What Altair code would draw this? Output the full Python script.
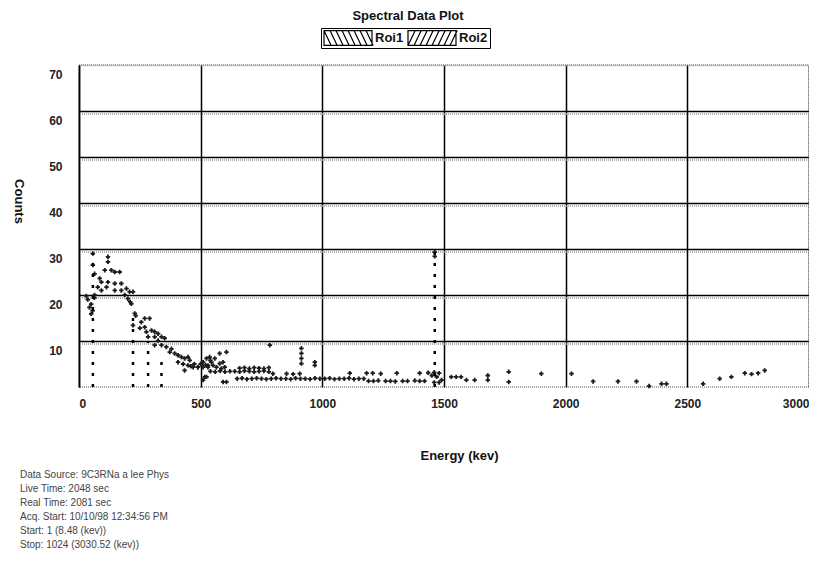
import altair as alt
import pandas as pd

# ---------------- data ----------------
low_e = [30, 36, 43, 50, 50, 56, 63, 64, 57, 57, 64, 77, 85, 92, 92, 106, 113, 119, 119, 119,
         133, 147, 147, 147, 167, 174, 174, 188, 195, 201, 208, 210, 215, 222]
low_c = [19.8, 19, 17.3, 18, 15.9, 16.6, 19.4, 20, 29, 26.5, 24.6, 21.7, 23.6, 22.8, 21, 25.4, 21.7, 28.3, 27.2, 22.8,
         25.4, 25, 22.5, 21, 25, 22.5, 21, 20, 21.4, 19.2, 20.7, 18.5, 18.1, 20.7]

fall_e = [229, 233, 222, 256, 270, 290, 250, 270, 277, 298, 311, 325, 284, 311, 339, 352, 325, 311, 339, 359,
          380, 393, 373, 407, 421, 434, 448, 455, 407, 428, 448, 469, 489, 510, 530, 434, 524, 510]
fall_c = [16, 15.5, 13.4, 14.1, 14.9, 14.9, 12.8, 13, 12, 12.3, 12, 11.6, 10.9, 10.9, 10.9, 10.6, 10.1, 9.1, 9.1, 8.7,
          8.3, 7.3, 7.6, 6.9, 6.5, 6.2, 6.5, 5.8, 5.4, 5, 4.7, 4.3, 4.3, 4.3, 4.7, 3.6, 2.2, 1.5]

block_e = [460, 474, 488, 510, 524, 537, 544, 551, 558, 530, 565, 578, 592, 599, 585, 578, 606, 592, 606, 517, 500, 520, 540]
block_c = [4.5, 5, 4.3, 5.4, 6.2, 6.5, 5.4, 4.7, 6.2, 4.3, 4.3, 5.1, 5.4, 4.3, 4, 7.3, 7.6, 1.1, 1.1, 2.2, 5.0, 4.8, 5.8]

mid_e = [540, 560, 580, 600, 620, 640, 660, 680, 700, 720, 740, 760, 780,
         660, 680, 700, 720, 740, 760, 780,
         797, 853, 880, 907]
mid_c = [3.4, 3.3, 3.5, 3.3, 3.4, 3.4, 3.3, 3.5, 3.4, 3.3, 3.4, 3.5, 3.3,
         4.1, 4.2, 4.0, 4.2, 4.1, 4.0, 4.2,
         2.9, 2.9, 2.8, 2.9]

tail_e = [650, 670, 690, 710, 730, 750, 770, 790, 810, 830, 850, 870, 890, 910, 930, 950, 970, 990,
          1010, 1030, 1050, 1070, 1090, 1110, 1130, 1150, 1170]
tail_c = [1.8, 1.9, 1.7, 1.8, 1.9, 1.8, 1.7, 1.8, 1.9, 1.8, 1.8, 1.7, 1.9, 1.8, 1.8, 1.7, 1.9, 1.8,
          1.8, 1.9, 1.7, 1.8, 1.8, 1.9, 1.7, 1.8, 1.8]

scatter_e = [784, 914, 914, 914, 914, 969, 969,
             1113, 1182, 1207, 1240, 1306, 1400, 1435, 1460, 1480,
             1190, 1210, 1230, 1260, 1280, 1300, 1330, 1350, 1380, 1400, 1420,
             1450, 1470, 1490, 1460, 1480, 1530, 1550, 1570, 1592, 1626, 1680, 1680, 1766, 1766, 1900,
             1462, 1462]
scatter_c = [9.1, 8.4, 7.3, 6.2, 5.1, 5.4, 4.7,
             3, 3, 3, 2.9, 3, 3, 3.1, 3.2, 3,
             1.3, 1.3, 1.4, 1.3, 1.3, 1.2, 1.3, 1.3, 1.4, 1.3, 1.3,
             2.5, 2.2, 1.5, 1.0, 1.0, 2.2, 2.2, 2.2, 1.5, 1.5, 2.5, 1.5, 3.3, 1.1, 2.9,
             29.3, 28.4]

high_e = [2024, 2113, 2215, 2291, 2343, 2394, 2414, 2565, 2633, 2681, 2736, 2764, 2791, 2818]
high_c = [2.9, 1.2, 1.2, 1.2, 0.2, 0.7, 0.7, 0.7, 1.8, 2.2, 3.0, 2.8, 3.0, 3.6]

peak_energy = [57, 222, 284, 339, 1462]
peak_top = [29, 16, 10, 6, 29.5]

roi_names = ["Roi1", "Roi2"]
x_ticks = [0, 500, 1000, 1500, 2000, 2500, 3000]
y_ticks = [10, 20, 30, 40, 50, 60, 70]
inner_grid = [10, 20, 30, 40, 50, 60]

footer_lines = [
    "Data Source: 9C3RNa a lee Phys",
    "Live Time: 2048 sec",
    "Real Time: 2081 sec",
    "Acq. Start: 10/10/98 12:34:56 PM",
    "Start: 1 (8.48 (kev))",
    "Stop: 1024 (3030.52 (kev))",
]

# ---------------- frames ----------------
energy = low_e + fall_e + block_e + mid_e + tail_e + scatter_e + high_e
counts = low_c + fall_c + block_c + mid_c + tail_c + scatter_c + high_c
spec_df = pd.DataFrame({"energy": energy, "counts": counts})
peak_df = pd.DataFrame({"energy": peak_energy, "top": peak_top, "base": [0] * len(peak_energy)})
roi_df = pd.DataFrame({"roi": roi_names, "energy": [0, 0], "counts": [0, 0]})
grid_df = pd.DataFrame({"g": inner_grid})
footer_df = pd.DataFrame({"txt": ["\n".join(footer_lines)]})

# hatched legend patches as custom symbol paths
h = 0.31
box = f"M-1,{-h}H1V{h}H-1Z"
xs = [-1 + 0.25 * i for i in range(8)]
back = box + "".join(f"M{x:.2f},{-h}L{x + 0.3:.2f},{h}" for x in xs)
fwd = box + "".join(f"M{x:.2f},{h}L{x + 0.3:.2f},{-h}" for x in xs)

FONT = "Liberation Sans"
x_scale = alt.Scale(domain=[0, 3000], nice=False, zero=False)
y_scale = alt.Scale(domain=[0, 70], nice=False)

x_axis = alt.Axis(values=x_ticks, format="d", grid=True, gridColor="black", gridWidth=1.5, domain=False,
                  ticks=False, tickSize=0, labelPadding=11, labelFontSize=12, labelFontWeight="bold",
                  labelColor="#222", labelFlush=True, titleFontSize=13, titleFontWeight="bold",
                  titleX=380, titleY=62, titleColor="#111")
y_axis = alt.Axis(values=y_ticks, format="d", grid=True,
                  gridColor={"condition": {"test": "datum.value == 70", "value": "#999"}, "value": "black"},
                  gridDash={"condition": {"test": "datum.value == 70", "value": [1, 1]}, "value": []},
                  gridWidth=1.5, domain=True, domainColor="black", domainWidth=1.5,
                  ticks=False, tickSize=0, labelPadding=17, labelOffset=9, labelFontSize=12,
                  labelFontWeight="bold", labelColor="#222", titleFontSize=13, titleFontWeight="bold",
                  titleAngle=90, titleX=-61, titleY=136, titleAlign="center", titleBaseline="middle",
                  titleColor="#111")

points = alt.Chart(spec_df).mark_point(shape="cross", filled=True, size=20, color="#1a1a1a", opacity=1).encode(
    x=alt.X("energy:Q", scale=x_scale, title="Energy (kev)", axis=x_axis),
    y=alt.Y("counts:Q", scale=y_scale, title="Counts", axis=y_axis),
)

dotted_grid = alt.Chart(grid_df).mark_rule(color="#999", strokeWidth=1.5, strokeDash=[1, 1], yOffset=3).encode(
    y=alt.Y("g:Q", scale=y_scale)
)

peaks = alt.Chart(peak_df).mark_rule(color="black", strokeWidth=2.5, strokeDash=[3, 8]).encode(
    x=alt.X("energy:Q", scale=x_scale),
    y=alt.Y("base:Q", scale=y_scale),
    y2="top:Q",
)

legend_layer = alt.Chart(roi_df).mark_point(size=0, color="black", filled=False).encode(
    x=alt.X("energy:Q", scale=x_scale),
    y=alt.Y("counts:Q", scale=y_scale),
    shape=alt.Shape("roi:N", scale=alt.Scale(domain=roi_names, range=[back, fwd]),
                    legend=alt.Legend(orient="none", legendX=242, legendY=-37, direction="horizontal",
                                      title=None, symbolSize=2304, symbolStrokeWidth=1.2,
                                      symbolStrokeColor="black", symbolFillColor="transparent",
                                      symbolOpacity=1, labelFontSize=13, labelFontWeight="bold",
                                      labelColor="#111", strokeColor="black", padding=2,
                                      columnPadding=3, labelOffset=2, clipHeight=16)),
)

footer = alt.Chart(footer_df).mark_text(align="left", baseline="top", fontSize=10, lineHeight=14,
                                        lineBreak="\n", color="#444", font=FONT).encode(
    text="txt:N", x=alt.value(-59), y=alt.value(405)
)

chart = alt.layer(dotted_grid, points, peaks, legend_layer, footer).properties(
    width=730, height=322,
    padding={"left": 71, "top": 57, "right": 0, "bottom": 174},
    autosize=alt.AutoSizeParams(type="none"),
    title=alt.TitleParams("Spectral Data Plot", fontSize=13, fontWeight="bold", anchor="middle",
                          frame="group", dx=-36, offset=5, color="#111", font=FONT),
).configure(font=FONT).configure_view(stroke="#888", strokeDash=[1, 1], strokeWidth=1.5)

chart.save("out.html", embed_options={"renderer": "svg", "actions": False})
